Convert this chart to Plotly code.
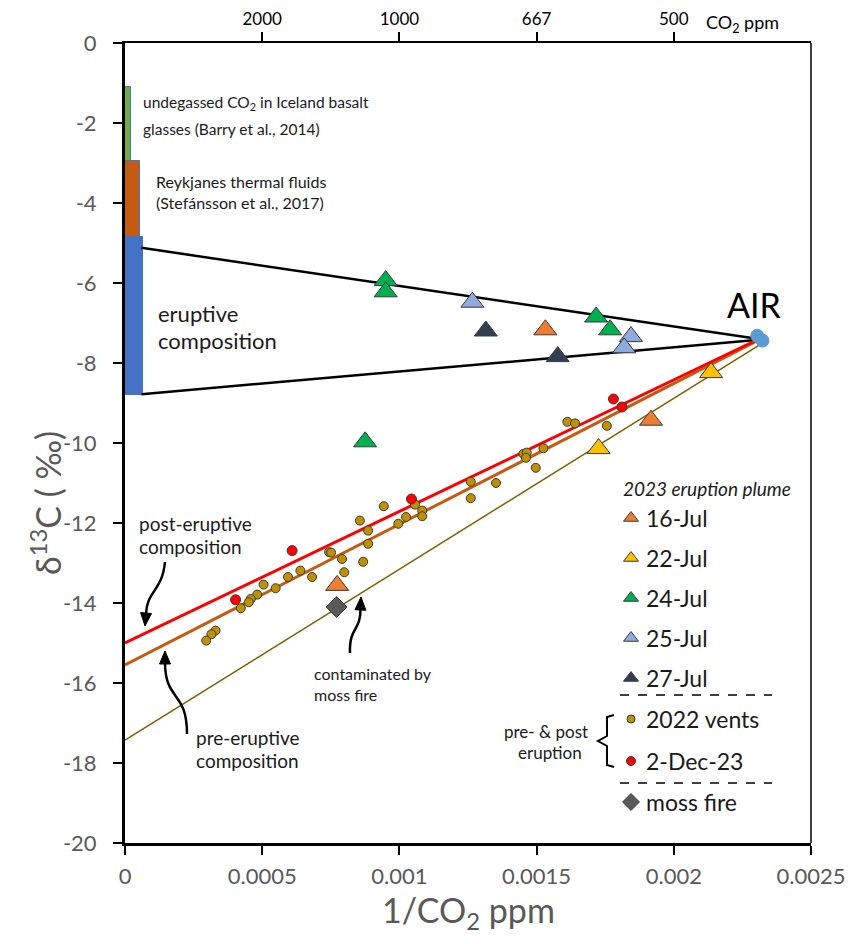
import math
import plotly.graph_objects as go

# ---------------- data ----------------
air_x = [0.002304, 0.002323]
air_y = [-7.32, -7.44]

jul16_x = [0.001532, 0.001917, 0.000773]
jul16_y = [-7.17, -9.43, -13.56]
jul22_x = [0.002136, 0.001726]
jul22_y = [-8.24, -10.14]
jul24_x = [0.00095, 0.00095, 0.001717, 0.001768, 0.000875]
jul24_y = [-5.94, -6.22, -6.85, -7.17, -9.97]
jul25_x = [0.001266, 0.001844, 0.001819]
jul25_y = [-6.48, -7.34, -7.62]
jul27_x = [0.001315, 0.001577]
jul27_y = [-7.20, -7.84]

vents_x = [0.001612, 0.00164, 0.001756, 0.001452, 0.001464, 0.001461, 0.001525, 0.001497,
           0.00126, 0.00126, 0.001352, 0.001057, 0.000943, 0.001083, 0.001083, 0.001024,
           0.000996, 0.000856, 0.000886, 0.000886, 0.000744, 0.000751, 0.000791, 0.000868,
           0.000799, 0.000639, 0.000594, 0.000682, 0.000505, 0.000549, 0.000482, 0.000458,
           0.000451, 0.000422, 0.00033, 0.000315, 0.000296]
vents_y = [-9.47, -9.51, -9.57, -10.27, -10.24, -10.37, -10.13, -10.62,
           -10.97, -11.38, -11.00, -11.54, -11.58, -11.69, -11.83, -11.85,
           -12.02, -11.94, -12.19, -12.52, -12.73, -12.74, -12.90, -12.97,
           -13.23, -13.19, -13.35, -13.35, -13.54, -13.63, -13.79, -13.90,
           -13.98, -14.13, -14.69, -14.78, -14.94]

dec2_x = [0.00178, 0.001811, 0.001044, 0.000609, 0.000403]
dec2_y = [-8.90, -9.10, -11.40, -12.69, -13.92]

moss_x = [0.000771]
moss_y = [-14.10]

# source composition ranges (top, bottom) and bar widths in 1/CO2 units
basalt_range = [-1.1, -3.25]
basalt_width = 0.000021
reykjanes_range = [-2.95, -4.86]
reykjanes_width = 0.000056
eruptive_range = [-4.86, -8.80]
eruptive_width = 0.000066

# mixing / regression lines
upper_x = [0.00006, 0.00231]
upper_y = [-5.12, -7.40]
lower_x = [0.00006, 0.00231]
lower_y = [-8.78, -7.42]
post_x = [0.0, 0.00231]
post_y = [-15.00, -7.40]
pre_x = [0.0, 0.00231]
pre_y = [-15.55, -7.42]
mossline_x = [0.0, 0.00233]
mossline_y = [-17.43, -7.47]

x_ticks = [0, 0.0005, 0.001, 0.0015, 0.002, 0.0025]
x_ticklabels = ["0", "0.0005", "0.001", "0.0015", "0.002", "0.0025"]
y_ticks = [0, -2, -4, -6, -8, -10, -12, -14, -16, -18, -20]
y_ticklabels = ["0", "-2", "-4", "-6", "-8", "-10", "-12", "-14", "-16", "-18", "-20"]
top_ticks = [0.0005, 0.001, 0.0015, 0.002]
top_ticklabels = ["2000", "1000", "667", "500"]

# ---------------- layout helpers ----------------
OFF = 8                       # page (body) margin around the figure
PAGE_W, PAGE_H = 859, 944
PLOT_L, PLOT_T = 125, 43      # plot area position on the page
PW, PH = 686, 800
W, H = PAGE_W - 2 * OFF, PAGE_H - 2 * OFF
ML, MT = PLOT_L - OFF, PLOT_T - OFF
MR, MB = W - ML - PW, H - MT - PH
XMAX, YMIN = 0.0025, -20.0


def px2x(px):
    return (px - PLOT_L) / PW * XMAX


def px2y(py):
    return YMIN * (py - PLOT_T) / PH


def paper_x(px):
    return (px - PLOT_L) / PW


def paper_y(py):
    return (PLOT_T + PH - py) / PH


FONT = "Lato, 'Open Sans', sans-serif"
GRAY = "#595959"
TXT = "#1a1a1a"

C16 = "#ED7D31"
C22 = "#FFC000"
C24 = "#00B050"
C25 = "#8FAADC"
C27 = "#333F50"
CVENT = "#BF9000"
CRED = "#FF0000"
CMOSS = "#595959"
CAIR = "#5B9BD5"
OUT = "#3a3a3a"

fig = go.Figure()


def add_range_bar(rng, width, color):
    top, bot = rng
    fig.add_trace(go.Bar(x=[width / 2], y=[top - bot], base=[bot], width=[width],
                         marker=dict(color=color, line=dict(color="#4472C4", width=1)),
                         showlegend=False, hoverinfo="skip"))


add_range_bar(basalt_range, basalt_width, "#70AD47")
add_range_bar(reykjanes_range, reykjanes_width, "#C55A11")
add_range_bar(eruptive_range, eruptive_width, "#4472C4")


def add_line(xs, ys, color, width):
    fig.add_trace(go.Scatter(x=xs, y=ys, mode="lines", line=dict(color=color, width=width),
                             showlegend=False, hoverinfo="skip"))


add_line(upper_x, upper_y, "black", 2.5)
add_line(lower_x, lower_y, "black", 2.5)
add_line(mossline_x, mossline_y, "#7F6000", 1.5)
add_line(pre_x, pre_y, "#C55A11", 3)
add_line(post_x, post_y, CRED, 3)


def add_pts(xs, ys, symbol, color, size, name):
    fig.add_trace(go.Scatter(x=xs, y=ys, mode="markers", name=name,
                             marker=dict(symbol=symbol, color=color, size=size,
                                         line=dict(color=OUT, width=1)),
                             showlegend=False))


add_pts(vents_x, vents_y, "circle", CVENT, 9, "2022 vents")
add_pts(dec2_x, dec2_y, "circle", CRED, 10, "2-Dec-23")
add_pts(moss_x, moss_y, "diamond", CMOSS, 16, "moss fire")
add_pts(jul16_x, jul16_y, "triangle-up", C16, 20, "16-Jul")
add_pts(jul22_x, jul22_y, "triangle-up", C22, 20, "22-Jul")
add_pts(jul24_x, jul24_y, "triangle-up", C24, 20, "24-Jul")
add_pts(jul25_x, jul25_y, "triangle-up", C25, 20, "25-Jul")
add_pts(jul27_x, jul27_y, "triangle-up", C27, 20, "27-Jul")
fig.add_trace(go.Scatter(x=air_x, y=air_y, mode="markers", name="AIR",
                         marker=dict(color=CAIR, size=13, line=dict(color=CAIR, width=1)),
                         showlegend=False))

# invisible trace to carry the top axis
fig.add_trace(go.Scatter(x=[0.001], y=[-30], xaxis="x2", mode="markers",
                         marker=dict(opacity=0), showlegend=False, hoverinfo="skip"))

# ---------------- custom legend ----------------
leg_items = [("16-Jul", "triangle-up", C16, 13, 518),
             ("22-Jul", "triangle-up", C22, 13, 558),
             ("24-Jul", "triangle-up", C24, 13, 598),
             ("25-Jul", "triangle-up", C25, 13, 638),
             ("27-Jul", "triangle-up", C27, 13, 678),
             ("2022 vents", "circle", CVENT, 8, 719),
             ("2-Dec-23", "circle", CRED, 9, 761),
             ("moss fire", "diamond", CMOSS, 13, 802)]

annotations = []
for name, sym, col, sz, py in leg_items:
    fig.add_trace(go.Scatter(x=[px2x(631)], y=[px2y(py)], mode="markers",
                             marker=dict(symbol=sym, color=col, size=sz, line=dict(color=OUT, width=1)),
                             showlegend=False, hoverinfo="skip"))
    annotations.append(dict(x=px2x(644), y=px2y(py), xref="x", yref="y", text=name,
                            showarrow=False, xanchor="left", yanchor="middle",
                            font=dict(family=FONT, size=23, color=TXT)))

annotations.append(dict(x=px2x(621), y=px2y(488), xref="x", yref="y",
                        text="<i>2023 eruption plume</i>", showarrow=False,
                        xanchor="left", yanchor="middle",
                        font=dict(family=FONT, size=19, color=TXT)))
annotations.append(dict(x=px2x(546), y=px2y(731), xref="x", yref="y", text="pre- &amp; post",
                        showarrow=False, xanchor="center", yanchor="middle",
                        font=dict(family=FONT, size=17, color=TXT)))
annotations.append(dict(x=px2x(550), y=px2y(752), xref="x", yref="y", text="eruption",
                        showarrow=False, xanchor="center", yanchor="middle",
                        font=dict(family=FONT, size=17, color=TXT)))

shapes = []
for py in (695, 783):
    shapes.append(dict(type="line", xref="x", yref="y", x0=px2x(620), x1=px2x(772),
                       y0=px2y(py), y1=px2y(py), line=dict(color="black", width=1.5, dash="dash")))


def seg(cmd, pts):
    return cmd + " " + " ".join("%.8f,%.5f" % (px2x(a), px2y(b)) for a, b in pts)


# bracket
bracket_pts = [(614, 715), (607, 717), (607, 736), (598, 741), (607, 746), (607, 765), (614, 767)]
bracket = seg("M", [bracket_pts[0]]) + " " + " ".join(seg("L", [p]) for p in bracket_pts[1:])
shapes.append(dict(type="path", xref="x", yref="y", path=bracket,
                   line=dict(color="black", width=2)))

# curved arrows with filled heads
arrows = [
    ([(165, 562)], [(162, 592), (147, 590), (146, 614)], (145, 626)),
    ([(187, 734)], [(187, 690), (165, 702), (165, 662)], (165, 651)),
    ([(350, 653)], [(349, 626), (361, 632), (360.5, 608)], (361, 597)),
]
for start, ctrl, tip in arrows:
    shapes.append(dict(type="path", xref="x", yref="y",
                       path=seg("M", start) + " " + seg("C", ctrl),
                       line=dict(color="black", width=2.5)))
    bx, by = ctrl[-1]
    tx, ty = tip
    d = math.hypot(tx - bx, ty - by)
    ux, uy = (tx - bx) / d, (ty - by) / d
    hl, hw = 13, 5.5
    base_x, base_y = tx - ux * hl, ty - uy * hl
    p1 = (base_x - uy * hw, base_y + ux * hw)
    p2 = (base_x + uy * hw, base_y - ux * hw)
    head = seg("M", [tip]) + " " + seg("L", [p1]) + " " + seg("L", [p2]) + " Z"
    shapes.append(dict(type="path", xref="x", yref="y", path=head,
                       fillcolor="black", line=dict(color="black", width=1)))

# right border
shapes.append(dict(type="line", xref="paper", yref="paper", x0=1, x1=1, y0=0, y1=1,
                   line=dict(color="black", width=1.5)))


def txt(px, py, text, size, anchor="left", color=TXT):
    annotations.append(dict(x=px2x(px), y=px2y(py), xref="x", yref="y", text=text,
                            showarrow=False, xanchor=anchor, yanchor="middle",
                            font=dict(family=FONT, size=size, color=color)))


txt(141, 103, "undegassed CO<sub>2</sub> in Iceland basalt", 15.5)
txt(141, 129, "glasses (Barry et al., 2014)", 15.5)
txt(154, 181, "Reykjanes thermal fluids", 16)
txt(154, 202, "(Stefánsson et al., 2017)", 16)
txt(156, 313, "eruptive", 22)
txt(156, 340, "composition", 22)
txt(754, 304, "AIR", 34, "center", "black")
txt(137, 523, "post-eruptive", 19)
txt(137, 546, "composition", 19)
txt(194, 737, "pre-eruptive", 19)
txt(194, 760, "composition", 19)
txt(312, 673, "contaminated by", 16)
txt(312, 694, "moss fire", 16)

# axis titles and top-axis unit
annotations.append(dict(x=paper_x(46), y=paper_y(503), xref="paper", yref="paper",
                        text="δ<sup>13</sup>C ( ‰)", textangle=-90, showarrow=False,
                        xanchor="center", yanchor="middle",
                        font=dict(family=FONT, size=34, color=GRAY)))
annotations.append(dict(x=0.5, y=paper_y(912), xref="paper", yref="paper",
                        text="1/CO<sub>2</sub> ppm", showarrow=False,
                        xanchor="center", yanchor="middle",
                        font=dict(family=FONT, size=34, color=GRAY)))
annotations.append(dict(x=paper_x(742), y=paper_y(23), xref="paper", yref="paper",
                        text="CO<sub>2</sub> ppm", showarrow=False,
                        xanchor="center", yanchor="middle",
                        font=dict(family=FONT, size=18, color="black")))

fig.update_layout(
    width=W, height=H,
    margin=dict(l=ML, r=MR, t=MT, b=MB, pad=0, autoexpand=False),
    paper_bgcolor="white", plot_bgcolor="white",
    barmode="overlay", bargap=0,
    showlegend=False,
    font=dict(family=FONT),
    xaxis=dict(range=[0, XMAX], tickvals=x_ticks, ticktext=x_ticklabels,
               ticks="outside", ticklen=9, tickwidth=2, tickcolor="black",
               showline=True, linewidth=3, linecolor="black", mirror=False,
               showgrid=False, zeroline=False, ticklabelstandoff=3,
               tickfont=dict(family=FONT, size=22, color=GRAY)),
    xaxis2=dict(range=[0, XMAX], overlaying="x", side="top", tickvals=top_ticks,
                ticktext=top_ticklabels, ticks="outside", ticklen=9, tickwidth=2,
                tickcolor="black", showline=True, linewidth=1.5, linecolor="black",
                showgrid=False, zeroline=False,
                tickfont=dict(family=FONT, size=17, color="black")),
    yaxis=dict(range=[YMIN, 0], tickvals=y_ticks, ticktext=y_ticklabels,
               ticks="outside", ticklen=9, tickwidth=2, tickcolor="black",
               showline=True, linewidth=3, linecolor="black",
               showgrid=False, zeroline=False, ticklabelstandoff=12,
               tickfont=dict(family=FONT, size=22, color=GRAY)),
    shapes=shapes,
    annotations=annotations,
)

fig.write_html("out.html")
